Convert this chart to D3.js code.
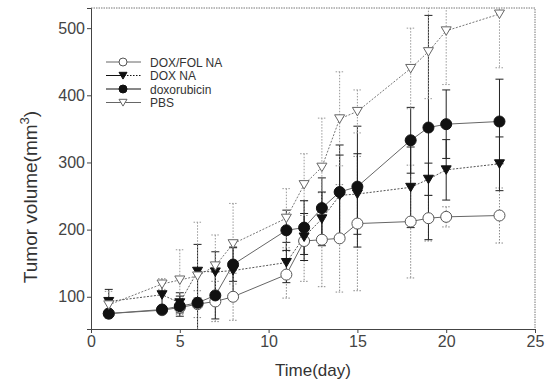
<!DOCTYPE html>
<html>
<head>
<meta charset="utf-8">
<script src="https://cdn.jsdelivr.net/npm/d3@7"></script>
<style>
  body { margin: 0; background: #fff; }
  svg { font-family: "Liberation Sans", Arial, sans-serif; }
</style>
</head>
<body>
<div id="chart"></div>
<script>
// days measured
const days = [1, 4, 5, 6, 7, 8, 11, 12, 13, 14, 15, 18, 19, 20, 23];

const dfnVals = [75, 80, 84, 89, 93, 100, 133, 183, 185, 187, 209, 212, 217, 219, 221];
const dfnErr  = [5, 6, 10, 20, 30, 35, 35, 60, 70, 80, 100, 84, 34, 15, 41];

const dnaVals = [93, 103, 91, 138, 137, 139, 151, 189, 216, 251, 253, 263, 275, 289, 298];
const dnaErr  = [18, 20, 15, 40, 30, 35, 30, 35, 40, 60, 60, 60, 24, 45, 40];

const doxVals = [75, 81, 86, 91, 102, 148, 199, 203, 232, 256, 264, 333, 352, 357, 361];
const doxErr  = [5, 5, 15, 45, 35, 25, 30, 40, 45, 70, 90, 49, 167, 51, 63];

const pbsVals = [88, 119, 125, 131, 146, 179, 217, 267, 293, 365, 376, 440, 465, 496, 521];
const pbsErr  = [20, 8, 45, 80, 46, 60, 44, 46, 73, 70, 32, 60, 70, 80, 80];

const xTicks = [0, 5, 10, 15, 20, 25];
const yTicks = [100, 200, 300, 400, 500];

const series = [
  {name: "DOX/FOL NA", vals: dfnVals, err: dfnErr, shape: "circle", fill: "#fff", stroke: "#555", line: "#666", dash: null, errColor: "#888", errDash: "1.5,1.5"},
  {name: "DOX NA", vals: dnaVals, err: dnaErr, shape: "tri", fill: "#111", stroke: "#111", line: "#555", dash: "2,1.5", errColor: "#222", errDash: null},
  {name: "doxorubicin", vals: doxVals, err: doxErr, shape: "circle", fill: "#111", stroke: "#111", line: "#666", dash: null, errColor: "#222", errDash: null},
  {name: "PBS", vals: pbsVals, err: pbsErr, shape: "tri", fill: "#fff", stroke: "#666", line: "#777", dash: "2,1.5", errColor: "#999", errDash: "1.5,1.5"}
];

const W = 552, H = 383;
const svg = d3.select("#chart").append("svg")
    .attr("width", W)
    .attr("height", H);

const x = d3.scaleLinear().domain([0, 25]).range([91, 535]);
const y = d3.scaleLinear().domain([52, 530]).range([329, 8]);

svg.append("clipPath").attr("id", "plot-clip")
  .append("rect")
    .attr("x", x(0)).attr("y", y(530))
    .attr("width", x(25) - x(0)).attr("height", y(52) - y(530));

// frame: top and right dotted
svg.append("path")
    .attr("d", `M${x(0)},${y(530)}H${x(25)}V${y(52)}`)
    .attr("fill", "none")
    .attr("stroke", "#777")
    .attr("stroke-dasharray", "1.5,1");

// axes
const xAxis = svg.append("g")
    .attr("transform", `translate(0,${y(52)})`)
    .call(d3.axisBottom(x).tickValues(xTicks).tickSize(4).tickPadding(3));
const yAxis = svg.append("g")
    .attr("transform", `translate(${x(0)},0)`)
    .call(d3.axisLeft(y).tickValues(yTicks).tickSize(4).tickPadding(2));

[xAxis, yAxis].forEach(g => {
  g.select(".domain").attr("stroke", "#444");
  g.selectAll(".tick line").attr("stroke", "#444");
  g.selectAll(".tick text")
      .attr("fill", "#444")
      .style("font-size", "16px")
      .style("font-family", "Liberation Sans, Arial, sans-serif");
});

const plot = svg.append("g").attr("clip-path", "url(#plot-clip)");

const triPath = (cx, cy, s) => `M${cx - s},${cy - s * 0.8}L${cx + s},${cy - s * 0.8}L${cx},${cy + s * 0.9}Z`;

function marker(g, shape, cx, cy, s) {
  if (shape === "circle") {
    return g.append("circle").attr("cx", cx).attr("cy", cy).attr("r", s);
  }
  return g.append("path").attr("d", triPath(cx, cy, s));
}

// error bars first (behind)
series.forEach(s => {
  const g = plot.append("g");
  days.forEach((d, i) => {
    const cx = x(d);
    const top = y(s.vals[i] + s.err[i]);
    const bot = y(s.vals[i] - s.err[i]);
    g.append("path")
        .attr("d", `M${cx},${top}V${bot}M${cx - 4},${top}H${cx + 4}M${cx - 4},${bot}H${cx + 4}`)
        .attr("fill", "none")
        .attr("stroke", s.errColor)
        .attr("stroke-width", 1)
        .attr("stroke-dasharray", s.errDash);
  });
});

// lines
const line = d3.line().x((d, i) => x(days[i])).y(d => y(d));
series.forEach(s => {
  plot.append("path")
      .attr("d", line(s.vals))
      .attr("fill", "none")
      .attr("stroke", s.line)
      .attr("stroke-width", 1)
      .attr("stroke-dasharray", s.dash);
});

// markers
series.forEach(s => {
  const g = plot.append("g");
  days.forEach((d, i) => {
    marker(g, s.shape, x(d), y(s.vals[i]), s.shape === "circle" ? 5.5 : 5)
        .attr("fill", s.fill)
        .attr("stroke", s.stroke)
        .attr("stroke-width", 1);
  });
});

// legend
const legend = svg.append("g");
series.forEach((s, i) => {
  const ly = 62 + i * 13.5;
  legend.append("line")
      .attr("x1", 106).attr("x2", 124).attr("y1", ly).attr("y2", ly)
      .attr("stroke", s.fill === "#fff" ? "#666" : "#111").attr("stroke-width", 1);
  legend.append("line")
      .attr("x1", 124).attr("x2", 141).attr("y1", ly).attr("y2", ly)
      .attr("stroke", s.fill === "#fff" ? "#666" : "#111").attr("stroke-width", 1)
      .attr("stroke-dasharray", s.name === "DOX NA" ? "1.5,1.5" : null);
  marker(legend, s.shape, 123, ly, 4)
      .attr("fill", s.fill)
      .attr("stroke", s.stroke);
  legend.append("text")
      .attr("x", 150).attr("y", ly + 4.5)
      .attr("fill", "#333")
      .style("font-size", "12px")
      .text(s.name);
});

// axis titles
svg.append("text")
    .attr("x", 313).attr("y", 376)
    .attr("text-anchor", "middle")
    .attr("fill", "#333")
    .style("font-size", "17px")
    .text("Time(day)");

const yt = svg.append("text")
    .attr("transform", "translate(37,197) rotate(-90)")
    .attr("text-anchor", "middle")
    .attr("fill", "#333")
    .style("font-size", "19px");
yt.append("tspan").text("Tumor volume(mm");
yt.append("tspan").attr("dy", -8).style("font-size", "13px").text("3");
yt.append("tspan").attr("dy", 8).text(")");
</script>
</body>
